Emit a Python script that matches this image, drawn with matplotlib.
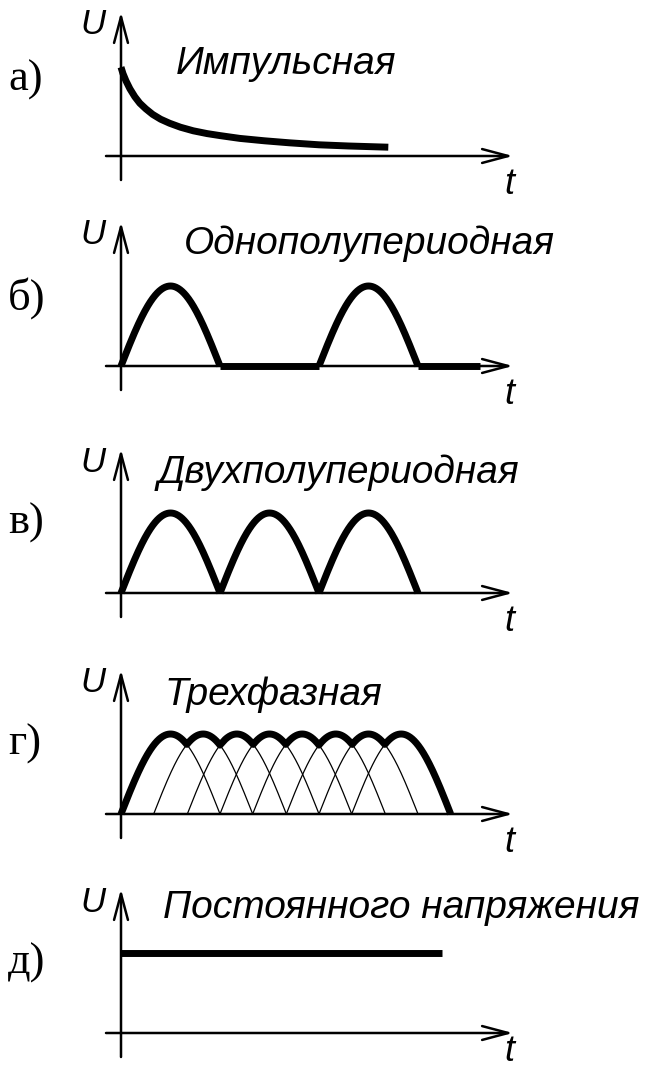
import numpy as np
import matplotlib
matplotlib.use("Agg")
import matplotlib.pyplot as plt
from matplotlib import font_manager

# --- data (time in half-periods, voltage in amplitude units) ---
panel_labels = ["а)", "б)", "в)", "г)", "д)"]
panel_titles = ["Импульсная", "Однополупериодная", "Двухполупериодная",
                "Трехфазная", "Постоянного напряжения"]

# а) impulse: decaying curve
decay_t = [0.0, 0.02, 0.05, 0.09, 0.14, 0.19, 0.25, 0.32, 0.40, 0.49,
           0.60, 0.73, 0.87, 1.0, 1.2, 1.45, 1.7, 2.0, 2.3, 2.7]
decay_u = [1.11, 1.03, 0.94, 0.84, 0.74, 0.66, 0.59, 0.52, 0.46, 0.41,
           0.36, 0.315, 0.28, 0.255, 0.22, 0.19, 0.165, 0.14, 0.125, 0.11]

# б) half-wave
half_arcs = [(0.0, 1.0), (2.0, 3.0)]
half_flats = [(1.0, 2.0), (3.0, 3.63)]

# в) full-wave
full_arcs = [(0.0, 1.0), (1.0, 2.0), (2.0, 3.0)]

# г) three-phase: start of every phase arc, each one half-period wide
phase_starts = [0.0, 0.33, 0.67, 1.0, 1.33, 1.67, 2.0, 2.33]
phase_width = 1.0

# д) DC
dc_level = 1.0
dc_end = 3.24

amplitude = 1.0

# --- layout (pixels of the 652x1073 picture) ---
W, H = 652, 1073
X0 = 121            # y-axis position
XU = 99             # pixels per half-period
YU = 80             # pixels per amplitude unit
baselines = [156, 366, 593, 814, 1033]
title_pos = [(176, 74), (184, 254), (158, 483), (164, 705), (163, 918)]
label_dy = [-76, -68, -70, -70, -70]

AX_LW = 1.8
THICK = 5.0
THIN = 0.9


def pick_font(names):
    for n in names:
        try:
            font_manager.findfont(font_manager.FontProperties(family=n),
                                  fallback_to_default=False)
            return n
        except Exception:
            pass
    return "DejaVu Sans"


sans = pick_font(["Liberation Sans Narrow", "Liberation Sans", "Arial"])
serif = pick_font(["Liberation Serif", "DejaVu Serif"])

fig = plt.figure(figsize=(W / 100, H / 100), dpi=100)


def px(x, y):
    return x / W, 1 - y / H


def make_axes(y0):
    top, bot = 160, 60
    ax = fig.add_axes([0, 1 - (y0 + bot) / H, 1, (top + bot) / H])
    ax.set_xlim(-X0 / XU, (W - X0) / XU)
    ax.set_ylim(-bot / YU, top / YU)
    ax.axis("off")
    return ax


def draw_axes(ax):
    arrow = dict(arrowstyle="->,head_length=0.75,head_width=0.2", lw=AX_LW,
                 color="black", mutation_scale=25, shrinkA=0, shrinkB=0)
    ax.annotate("", xy=((513 - X0) / XU, 0), xytext=(-15 / XU, 0), arrowprops=arrow)
    ax.annotate("", xy=(0, 1.8), xytext=(0, -0.3), arrowprops=arrow)


def arc(ax, a, b, lw, amp=amplitude):
    t = np.linspace(a, b, 200)
    u = amp * np.sin(np.pi * (t - a) / (b - a))
    ax.plot(t, u, color="black", lw=lw, solid_capstyle="butt", solid_joinstyle="round")


axes = [make_axes(y0) for y0 in baselines]
for ax in axes:
    draw_axes(ax)

# а)
axes[0].plot(decay_t, decay_u, color="black", lw=THICK,
             solid_capstyle="butt", solid_joinstyle="round")

# б)
for a, b in half_arcs:
    arc(axes[1], a, b, THICK)
for a, b in half_flats:
    axes[1].plot([a, b], [0, 0], color="black", lw=THICK, solid_capstyle="butt")

# в)
for a, b in full_arcs:
    arc(axes[2], a, b, THICK)

# г)
for s in phase_starts:
    arc(axes[3], s, s + phase_width, THIN)
tt = np.linspace(phase_starts[0], phase_starts[-1] + phase_width, 1200)
env = np.zeros_like(tt)
for s in phase_starts:
    inside = (tt >= s) & (tt <= s + phase_width)
    env = np.where(inside, np.maximum(env, amplitude * np.sin(np.pi * (tt - s) / phase_width)), env)
axes[3].plot(tt, env, color="black", lw=THICK, solid_capstyle="butt", solid_joinstyle="round")

# д)
axes[4].plot([0, dc_end], [dc_level, dc_level], color="black", lw=THICK, solid_capstyle="butt")

# texts
for i, y0 in enumerate(baselines):
    fig.text(*px(8, y0 + label_dy[i]), panel_labels[i], family=serif,
             fontsize=32, ha="left", va="center")
    fig.text(*px(106, y0 - 131), "U", family=sans, style="italic",
             fontsize=25, ha="right", va="center")
    fig.text(*px(509, min(y0 + 38, H - 12)), "t", family=sans, style="italic",
             fontsize=26, ha="center", va="baseline")
    tx, ty = title_pos[i]
    fig.text(*px(tx, ty), panel_titles[i], family=sans, style="italic",
             fontsize=28, ha="left", va="baseline")

fig.savefig("out.png", dpi=100, facecolor="white")
